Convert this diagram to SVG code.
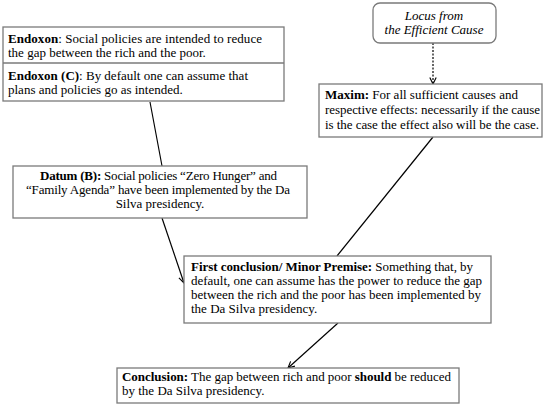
<svg xmlns="http://www.w3.org/2000/svg" width="553" height="407" viewBox="0 0 553 407">
<defs>
<marker id="arr" viewBox="0 0 10 10" refX="9" refY="5" markerWidth="8" markerHeight="8" orient="auto" markerUnits="userSpaceOnUse">
<path d="M1,1 L9,5 L1,9" fill="none" stroke="#000" stroke-width="1.4"/>
</marker>
<style>
.box{fill:#fff;stroke:#7a7a7a;stroke-width:1.3}
text{font-family:'Liberation Serif','Times New Roman',serif;font-size:13px;fill:#000}
.b{font-weight:bold}
.i{font-style:italic}
.c{stroke:#000;stroke-width:1.2;fill:none}
</style>
</defs>
<rect width="553" height="407" fill="#fff"/>
<g id="connectors">
<line class="c" x1="150" y1="102" x2="162" y2="166"/>
<line class="c" x1="162" y1="218" x2="184" y2="283" marker-end="url(#arr)"/>
<line class="c" x1="433" y1="43" x2="433" y2="84" stroke-dasharray="2,1.5" marker-end="url(#arr)"/>
<line class="c" x1="433" y1="137" x2="337" y2="256"/>
<line class="c" x1="338" y1="323" x2="288" y2="368" marker-end="url(#arr)"/>
</g>
<g id="endoxon">
<rect class="box" x="3" y="27" width="281" height="74"/>
<line x1="3" y1="63" x2="284" y2="63" stroke="#7a7a7a" stroke-width="1.3"/>
<text x="8" y="43" textLength="254" lengthAdjust="spacing"><tspan class="b">Endoxon</tspan>:  Social policies are intended to reduce</text>
<text x="8" y="57">the gap between the rich and the poor.</text>
<text x="8" y="80" textLength="240" lengthAdjust="spacing"><tspan class="b">Endoxon (C)</tspan>:  By default one can assume that</text>
<text x="8" y="94">plans and policies go as intended.</text>
</g>
<g id="locus">
<rect class="box" x="373" y="3" width="123" height="40" rx="7"/>
<text class="i" x="434" y="20" text-anchor="middle">Locus from</text>
<text class="i" x="434" y="34" text-anchor="middle">the Efficient Cause</text>
</g>
<g id="maxim">
<rect class="box" x="319" y="84" width="223" height="53"/>
<text x="325" y="99"><tspan class="b">Maxim:</tspan>  For all sufficient causes and</text>
<text x="325" y="114" textLength="215" lengthAdjust="spacing">respective effects: necessarily  if the cause</text>
<text x="325" y="129" textLength="214" lengthAdjust="spacing">is the case the effect also will be the case.</text>
</g>
<g id="datum">
<rect class="box" x="13" y="166" width="294" height="52"/>
<text x="40" y="180" textLength="237" lengthAdjust="spacing"><tspan class="b">Datum (B):</tspan> Social policies “Zero Hunger” and</text>
<text x="26" y="194" textLength="264" lengthAdjust="spacing">“Family Agenda”  have been implemented by the Da</text>
<text x="160" y="208" text-anchor="middle">Silva presidency.</text>
</g>
<g id="first-conclusion">
<rect class="box" x="184" y="256" width="307" height="67"/>
<text x="191" y="271" textLength="282" lengthAdjust="spacing"><tspan class="b">First conclusion/  Minor  Premise:</tspan> Something that, by</text>
<text x="191" y="285" textLength="291" lengthAdjust="spacing">default, one can assume has the power to reduce the gap</text>
<text x="191" y="299" textLength="290" lengthAdjust="spacing">between the rich and the poor has been implemented  by</text>
<text x="191" y="313">the Da Silva presidency.</text>
</g>
<g id="conclusion">
<rect class="box" x="117" y="368" width="342" height="35"/>
<text x="122" y="381" textLength="329" lengthAdjust="spacing"><tspan class="b">Conclusion:</tspan> The gap between rich and poor <tspan class="b">should</tspan> be reduced</text>
<text x="122" y="395">by the Da Silva presidency.</text>
</g>
</svg>
